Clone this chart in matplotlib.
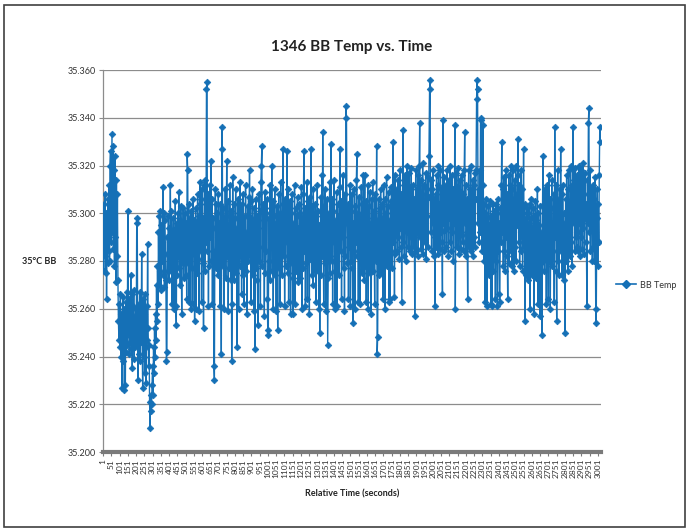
import matplotlib
matplotlib.use("Agg")
import matplotlib.pyplot as plt
from matplotlib.patches import Rectangle
from matplotlib.lines import Line2D

# BB temperature, sampled every 3 s; stored as mK above the 35.200 °C baseline
sample_step = 3
n_seconds = 3020
baseline_c = 35.200
bb_offset_mk = [
    98, 76, 104, 82, 108, 75, 100, 64, 95, 79, 106, 84, 112, 80, 120, 126, 88, 110, 133, 92, 128, 85, 118, 78, 124, 90, 71, 114, 82, 108, 72, 55, 47,
    62, 44, 66, 40, 58, 27, 52, 65, 38, 60, 26, 48, 28, 63, 42, 67, 45, 101, 50, 64, 41, 58, 46, 74, 43, 66, 35, 61, 47, 68, 39, 57, 44,
    60, 45, 96, 98, 50, 30, 62, 41, 67, 38, 55, 46, 83, 48, 27, 64, 40, 58, 33, 66, 44, 29, 61, 47, 87, 52, 36, 45, 21, 10, 24, 17, 20,
    28, 36, 24, 44, 33, 52, 40, 58, 47, 70, 55, 78, 62, 92, 70, 99, 76, 101, 68, 95, 80, 88, 111, 74, 100, 69, 97, 83, 72, 38, 42, 90, 76,
    99, 72, 94, 80, 112, 76, 101, 62, 90, 84, 98, 60, 93, 78, 105, 61, 53, 96, 74, 100, 82, 109, 77, 97, 70, 103, 85, 58, 95, 79, 102, 73, 91,
    80, 100, 74, 96, 64, 125, 118, 79, 104, 63, 98, 86, 60, 101, 77, 93, 62, 106, 83, 97, 55, 88, 102, 60, 96, 75, 108, 81, 99, 59, 104, 113, 84,
    106, 63, 110, 79, 98, 52, 92, 112, 76, 114, 88, 152, 155, 84, 108, 61, 103, 78, 112, 90, 122, 80, 106, 62, 98, 84, 36, 30, 94, 110, 77, 104, 82,
    100, 74, 108, 80, 96, 61, 104, 86, 41, 136, 127, 78, 102, 60, 97, 84, 110, 73, 99, 122, 82, 105, 59, 95, 77, 112, 88, 72, 101, 38, 62, 115, 84,
    104, 72, 98, 80, 110, 75, 94, 44, 86, 106, 60, 100, 78, 113, 82, 96, 66, 104, 74, 108, 88, 62, 99, 84, 112, 76, 92, 58, 103, 80, 107, 90, 118,
    82, 105, 63, 98, 84, 110, 74, 96, 59, 102, 43, 88, 106, 77, 99, 72, 53, 94, 108, 80, 101, 61, 113, 120, 128, 78, 104, 86, 97, 57, 109, 75, 100,
    84, 106, 64, 49, 51, 98, 80, 112, 72, 102, 88, 120, 76, 105, 60, 99, 85, 110, 74, 96, 59, 103, 81, 51, 94, 108, 77, 100, 62, 113, 86, 97, 74,
    104, 127, 82, 98, 61, 106, 78, 101, 88, 126, 75, 110, 63, 97, 84, 105, 58, 100, 79, 108, 73, 58, 96, 83, 112, 62, 102, 76, 99, 86, 107, 71, 94,
    80, 104, 73, 100, 86, 111, 60, 98, 77, 108, 126, 84, 102, 61, 96, 79, 113, 64, 105, 88, 99, 58, 107, 81, 127, 92, 74, 103, 70, 110, 83, 97, 76,
    104, 63, 99, 85, 112, 76, 101, 60, 95, 50, 88, 107, 74, 116, 82, 134, 90, 62, 103, 79, 110, 59, 98, 86, 106, 45, 73, 100, 84, 113, 75, 96, 129,
    80, 106, 62, 101, 88, 114, 76, 60, 97, 82, 109, 61, 104, 86, 99, 74, 111, 127, 84, 105, 64, 100, 90, 116, 77, 98, 59, 108, 82, 145, 140, 96, 79,
    104, 64, 99, 86, 112, 61, 101, 80, 108, 77, 54, 96, 84, 110, 60, 103, 88, 114, 125, 82, 100, 63, 107, 90, 62, 98, 79, 111, 75, 104, 86, 116, 72,
    100, 116, 78, 105, 63, 98, 87, 112, 60, 103, 82, 109, 75, 96, 58, 106, 84, 113, 76, 101, 88, 62, 108, 80, 97, 128, 41, 48, 94, 106, 74, 102, 85,
    110, 76, 104, 88, 98, 64, 112, 82, 106, 60, 100, 86, 115, 78, 103, 90, 109, 63, 97, 64, 105, 84, 111, 77, 102, 130, 88, 108, 65, 116, 83, 104, 92,
    110, 84, 114, 90, 106, 81, 118, 94, 108, 86, 63, 100, 135, 88, 112, 82, 116, 96, 109, 80, 120, 92, 105, 86, 117, 98, 84, 111, 90, 119, 83, 104, 93,
    112, 86, 106, 57, 98, 118, 84, 110, 92, 116, 82, 104, 120, 138, 90, 114, 85, 108, 96, 121, 83, 112, 94, 105, 88, 117, 81, 110, 99, 115, 86, 107, 124,
    152, 156, 92, 114, 84, 110, 96, 118, 82, 106, 90, 61, 108, 86, 116, 94, 112, 83, 120, 98, 104, 85, 118, 92, 110, 88, 66, 139, 96, 115, 84, 109, 93,
    112, 86, 118, 94, 106, 82, 114, 98, 120, 88, 108, 84, 116, 92, 110, 80, 104, 96, 137, 60, 100, 117, 86, 111, 93, 119, 83, 106, 97, 114, 85, 109, 91,
    116, 88, 108, 84, 118, 134, 96, 112, 82, 106, 92, 64, 104, 118, 86, 110, 94, 120, 84, 108, 98, 114, 82, 112, 90, 117, 86, 106, 118, 148, 156, 152, 96,
    110, 88, 118, 92, 139, 140, 100, 84, 112, 137, 96, 80, 104, 63, 100, 86, 106, 61, 98, 78, 103, 74, 95, 83, 105, 62, 99, 61, 90, 104, 76, 101, 82,
    98, 64, 104, 80, 100, 61, 106, 84, 96, 66, 63, 102, 88, 112, 130, 92, 110, 78, 115, 84, 104, 76, 118, 90, 108, 82, 64, 100, 116, 79, 112, 88, 120,
    84, 110, 78, 118, 92, 106, 76, 114, 86, 120, 80, 108, 95, 116, 131, 88, 112, 78, 104, 84, 118, 90, 110, 76, 100, 127, 86, 104, 55, 98, 74, 102, 80,
    100, 72, 96, 82, 104, 60, 98, 78, 106, 74, 94, 86, 102, 58, 99, 80, 105, 73, 97, 84, 110, 62, 100, 76, 95, 57, 103, 79, 90, 49, 92, 124, 80,
    104, 76, 110, 82, 98, 62, 112, 86, 100, 64, 116, 80, 106, 60, 102, 90, 114, 78, 96, 84, 108, 63, 136, 90, 112, 76, 55, 100, 118, 80, 106, 74, 110,
    92, 127, 84, 108, 74, 112, 88, 100, 72, 96, 50, 106, 80, 116, 86, 110, 76, 118, 92, 104, 82, 120, 88, 112, 78, 108, 136, 96, 114, 84, 119, 90, 108,
    86, 116, 92, 110, 84, 120, 96, 106, 82, 118, 90, 112, 85, 121, 94, 108, 83, 117, 98, 104, 88, 61, 114, 96, 138, 144, 92, 118, 84, 110, 96, 104, 80,
    112, 86, 106, 80, 115, 92, 54, 60, 98, 110, 78, 104, 88, 116, 136, 130,
]
bb_temp = [baseline_c + v / 1000 for v in bb_offset_mk]
time_s = [1 + sample_step * i for i in range(len(bb_temp))]

x_tick_values = list(range(1, 3002, 50))
x_tick_labels = [str(v) for v in x_tick_values]
y_tick_values = [35.200, 35.220, 35.240, 35.260, 35.280, 35.300, 35.320, 35.340, 35.360]

plt.rcParams["font.family"] = ["Lato", "DejaVu Sans"]

W, H = 689, 532
fig = plt.figure(figsize=(W / 100, H / 100), dpi=100)
fig.patch.set_facecolor("white")

# outer chart frame
fig.patches.append(Rectangle((4 / W, 5 / H), 681 / W, 522 / H, transform=fig.transFigure,
                             fill=False, edgecolor="#404040", linewidth=1.2))

ax = fig.add_axes([103 / W, (H - 452) / H, 498 / W, 382 / H])

series_color = "#1570b6"
ax.plot(time_s, bb_temp, color=series_color, linewidth=1.0, marker="D",
        markersize=3.4, markeredgewidth=0.5, markeredgecolor=series_color,
        markerfacecolor=series_color, zorder=3)

ax.set_xlim(0.5, n_seconds + 0.5)
ax.set_ylim(35.200, 35.360)
ax.set_yticks(y_tick_values)
ax.set_yticklabels([f"{v:.3f}" for v in y_tick_values])
ax.set_xticks(x_tick_values)
ax.set_xticklabels(x_tick_labels, rotation=90)

ax.grid(axis="y", color="#8c8c8c", linewidth=0.9, zorder=0)
ax.grid(axis="x", visible=False)
for side in ("top", "right"):
    ax.spines[side].set_visible(False)
ax.spines["left"].set_color("#8c8c8c")
ax.spines["left"].set_linewidth(0.9)
ax.spines["bottom"].set_color("#7a7a7a")
ax.spines["bottom"].set_linewidth(3.0)

ax.tick_params(axis="y", labelsize=6.5, labelcolor="#333333", length=3,
               color="#8c8c8c", pad=2)
ax.tick_params(axis="x", labelsize=6.0, labelcolor="#333333", length=3,
               color="#7a7a7a", pad=2)

ax.set_title("1346 BB Temp vs. Time", fontsize=11, fontweight="bold",
             color="#222222", pad=14)
ax.set_xlabel("Relative Time (seconds)", fontsize=6.5, fontweight="bold",
              color="#222222", labelpad=8)
ax.set_ylabel("35°C BB", fontsize=6.5, fontweight="bold", color="#222222",
              rotation=0, ha="right", va="center", labelpad=8)

handle = Line2D([], [], color=series_color, linewidth=1.2, marker="D",
                markersize=3.6, markerfacecolor=series_color,
                markeredgecolor=series_color)
fig.legend([handle], ["BB Temp"], loc="center left",
           bbox_to_anchor=(608 / W, (H - 285) / H), frameon=False,
           fontsize=6.5, handlelength=2.2, handletextpad=0.4,
           labelcolor="#333333")

fig.savefig("out.png", dpi=100)
